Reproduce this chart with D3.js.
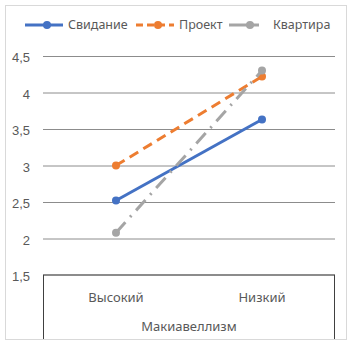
<!DOCTYPE html>
<html>
<head>
<meta charset="utf-8">
<script src="https://cdn.jsdelivr.net/npm/d3@7"></script>
<style>
  body { margin: 0; background: #fff; }
  svg { font-family: "Noto Sans", "Open Sans", sans-serif; }
  .tick text, .label { fill: #595959; font-size: 13px; }
  .legend-label { fill: #595959; font-size: 12.5px; }
</style>
</head>
<body>
<svg width="352" height="345"></svg>
<script>
const categories = ['Высокий', 'Низкий'];
const seriesNames = ['Свидание', 'Проект', 'Квартира'];
const svidanie = [2.52, 3.63];
const proekt = [3.0, 4.22];
const kvartira = [2.08, 4.3];
const yTicks = [1.5, 2, 2.5, 3, 3.5, 4, 4.5];
const axisTitle = 'Макиавеллизм';

const svg = d3.select('svg');
const width = +svg.attr('width');
const height = +svg.attr('height');

const colors = ['#4472C4', '#ED7D31', '#A5A5A5'];
const dashes = [null, '10,6', '14,7,2,7'];
const series = [svidanie, proekt, kvartira];

// outer chart frame
svg.append('rect')
  .attr('x', 5.5).attr('y', 5.5)
  .attr('width', width - 11).attr('height', height - 11)
  .attr('fill', 'none')
  .attr('stroke', '#d9d9d9');

const margin = { top: 56, right: 17, bottom: 70, left: 43 };
const innerWidth = width - margin.left - margin.right;
const innerHeight = height - margin.top - margin.bottom;

const g = svg.append('g')
  .attr('transform', `translate(${margin.left},${margin.top})`);

const xScale = d3.scalePoint()
  .domain(categories)
  .range([0, innerWidth])
  .padding(0.5);

const yScale = d3.scaleLinear()
  .domain([1.5, 4.5])
  .range([innerHeight, 0]);

const yAxis = d3.axisLeft(yScale)
  .tickValues(yTicks)
  .tickFormat(d => String(d).replace('.', ','))
  .tickSize(-innerWidth)
  .tickPadding(13);

const yAxisG = g.append('g').call(yAxis);
yAxisG.select('.domain').remove();
yAxisG.selectAll('.tick line')
  .attr('stroke', '#8c8c8c')
  .attr('stroke-width', 1);
yAxisG.selectAll('.tick text').attr('dy', '0.45em');

// category axis box
const boxTop = margin.top + innerHeight;
const boxBottom = height - 6;
svg.append('line')
  .attr('x1', margin.left).attr('x2', margin.left + innerWidth)
  .attr('y1', boxTop).attr('y2', boxTop)
  .attr('stroke', '#8c8c8c').attr('stroke-width', 2);
svg.append('line')
  .attr('x1', margin.left + 0.5).attr('x2', margin.left + 0.5)
  .attr('y1', boxTop).attr('y2', boxBottom)
  .attr('stroke', '#404040');
svg.append('line')
  .attr('x1', margin.left + innerWidth - 0.5).attr('x2', margin.left + innerWidth - 0.5)
  .attr('y1', boxTop).attr('y2', boxBottom)
  .attr('stroke', '#404040');

svg.selectAll('.cat').data(categories)
  .enter().append('text')
    .attr('class', 'cat label')
    .attr('x', d => margin.left + xScale(d))
    .attr('y', boxTop + 27)
    .attr('text-anchor', 'middle')
    .text(d => d);

svg.append('text')
  .attr('class', 'label')
  .attr('x', margin.left + innerWidth / 2)
  .attr('y', boxTop + 56)
  .attr('text-anchor', 'middle')
  .text(axisTitle);

// series lines and markers
const line = d3.line()
  .x((d, i) => xScale(categories[i]))
  .y(d => yScale(d));

series.forEach((values, s) => {
  g.append('path')
    .datum(values)
    .attr('d', line)
    .attr('fill', 'none')
    .attr('stroke', colors[s])
    .attr('stroke-width', 3)
    .attr('stroke-dasharray', dashes[s]);
  g.selectAll(`.m${s}`).data(values)
    .enter().append('circle')
      .attr('class', `m${s}`)
      .attr('cx', (d, i) => xScale(categories[i]))
      .attr('cy', d => yScale(d))
      .attr('r', 4)
      .attr('fill', colors[s]);
});

// legend
const legendX = [25, 136, 229];
const legendW = [38, 38, 30];
const legendY = 25;
seriesNames.forEach((name, s) => {
  svg.append('line')
    .attr('x1', legendX[s]).attr('x2', legendX[s] + legendW[s])
    .attr('y1', legendY).attr('y2', legendY)
    .attr('stroke', colors[s])
    .attr('stroke-width', 3)
    .attr('stroke-dasharray', s === 1 ? '7,4' : null);
  svg.append('circle')
    .attr('cx', legendX[s] + (s === 2 ? 21 : 22))
    .attr('cy', legendY)
    .attr('r', 4)
    .attr('fill', colors[s]);
  svg.append('text')
    .attr('class', 'legend-label')
    .attr('x', s === 2 ? 273 : legendX[s] + legendW[s] + 5)
    .attr('y', legendY + 4)
    .text(name);
});
</script>
</body>
</html>
